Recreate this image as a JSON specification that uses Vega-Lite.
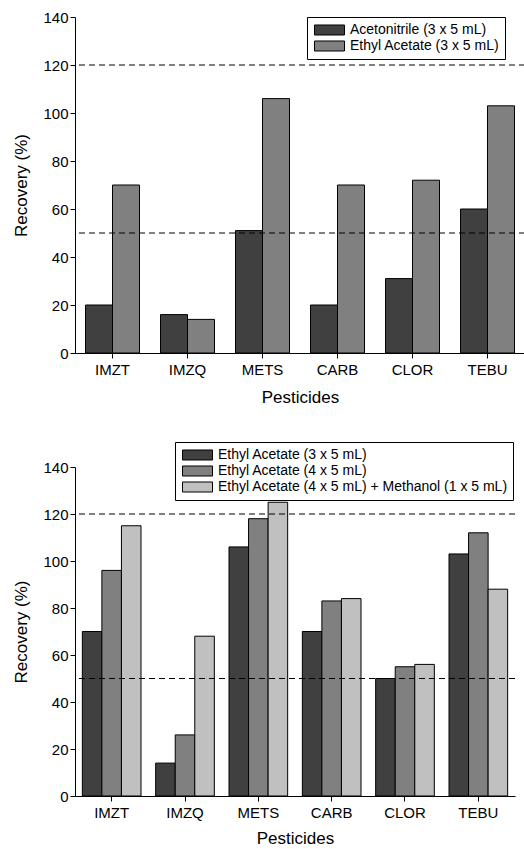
{
  "$schema": "https://vega.github.io/schema/vega-lite/v6.json",
  "background": "white",
  "padding": {"left": 12, "top": 10, "right": 0, "bottom": 0},
  "config": {
    "font": "Liberation Sans",
    "view": {"stroke": null},
    "axis": {
      "domainColor": "black",
      "tickColor": "black",
      "labelColor": "black",
      "titleColor": "black",
      "labelFontSize": 15,
      "titleFontSize": 17,
      "titleFontWeight": "normal",
      "grid": false
    },
    "legend": {
      "labelFontSize": 14,
      "labelColor": "black",
      "labelLimit": 0,
      "labelOffset": 12.5,
      "strokeColor": "black",
      "fillColor": "white",
      "padding": 5,
      "rowPadding": 0,
      "symbolOffset": 9.5,
      "symbolType": "M-2,-0.667H2V0.667H-2Z",
      "symbolSize": 225,
      "symbolStrokeColor": "black",
      "symbolStrokeWidth": 1,
      "symbolOpacity": 1
    }
  },
  "spacing": 36,
  "resolve": {"scale": {"color": "independent", "xOffset": "independent", "x": "independent"}, "legend": {"color": "independent"}},
  "vconcat": [
    {
      "width": 450,
      "height": 336,
      "layer": [
        {
          "data": {"values": [
            {"pesticide": "IMZT", "series": "Acetonitrile (3 x 5 mL)", "recovery": 20},
            {"pesticide": "IMZQ", "series": "Acetonitrile (3 x 5 mL)", "recovery": 16},
            {"pesticide": "METS", "series": "Acetonitrile (3 x 5 mL)", "recovery": 51},
            {"pesticide": "CARB", "series": "Acetonitrile (3 x 5 mL)", "recovery": 20},
            {"pesticide": "CLOR", "series": "Acetonitrile (3 x 5 mL)", "recovery": 31},
            {"pesticide": "TEBU", "series": "Acetonitrile (3 x 5 mL)", "recovery": 60},
            {"pesticide": "IMZT", "series": "Ethyl Acetate (3 x 5 mL)", "recovery": 70},
            {"pesticide": "IMZQ", "series": "Ethyl Acetate (3 x 5 mL)", "recovery": 14},
            {"pesticide": "METS", "series": "Ethyl Acetate (3 x 5 mL)", "recovery": 106},
            {"pesticide": "CARB", "series": "Ethyl Acetate (3 x 5 mL)", "recovery": 70},
            {"pesticide": "CLOR", "series": "Ethyl Acetate (3 x 5 mL)", "recovery": 72},
            {"pesticide": "TEBU", "series": "Ethyl Acetate (3 x 5 mL)", "recovery": 103}
          ]},
          "mark": {"type": "bar", "stroke": "black", "strokeWidth": 1},
          "encoding": {
            "x": {"field": "pesticide", "type": "nominal", "sort": null,
                  "scale": {"paddingInner": 0.28, "paddingOuter": 0.14},
                  "axis": {"title": "Pesticides", "labelAngle": 0, "tickSize": 5, "labelPadding": 4, "titlePadding": 12}},
            "xOffset": {"field": "series", "type": "nominal", "sort": null, "scale": {"paddingInner": 0, "paddingOuter": 0}},
            "y": {"field": "recovery", "type": "quantitative",
                  "scale": {"domain": [0, 140], "nice": false, "zero": true},
                  "axis": {"title": "Recovery (%)", "values": [0,10,20,30,40,50,60,70,80,90,100,110,120,130,140],
                           "labelExpr": "datum.value % 20 == 0 ? datum.label : ''",
                           "tickSize": {"condition": {"test": "datum.value % 20 == 0", "value": 5}, "value": 3},
                           "labelPadding": 2, "titlePadding": 12}},
            "color": {"field": "series", "type": "nominal", "sort": null,
                      "scale": {"range": ["#404040", "#808080"]},
                      "legend": {"title": null, "orient": "none", "legendX": 232, "legendY": 0}}
          }
        },
        {
          "data": {"values": [{"limit": 120}, {"limit": 50}]},
          "mark": {"type": "rule", "color": "black", "strokeWidth": 1, "strokeDash": [6, 4]},
          "encoding": {"y": {"field": "limit", "type": "quantitative"}}
        }
      ]
    },
    {
      "width": 440,
      "height": 329,
      "layer": [
        {
          "data": {"values": [
            {"pesticide": "IMZT", "series": "Ethyl Acetate (3 x 5 mL)", "recovery": 70},
            {"pesticide": "IMZQ", "series": "Ethyl Acetate (3 x 5 mL)", "recovery": 14},
            {"pesticide": "METS", "series": "Ethyl Acetate (3 x 5 mL)", "recovery": 106},
            {"pesticide": "CARB", "series": "Ethyl Acetate (3 x 5 mL)", "recovery": 70},
            {"pesticide": "CLOR", "series": "Ethyl Acetate (3 x 5 mL)", "recovery": 50},
            {"pesticide": "TEBU", "series": "Ethyl Acetate (3 x 5 mL)", "recovery": 103},
            {"pesticide": "IMZT", "series": "Ethyl Acetate (4 x 5 mL)", "recovery": 96},
            {"pesticide": "IMZQ", "series": "Ethyl Acetate (4 x 5 mL)", "recovery": 26},
            {"pesticide": "METS", "series": "Ethyl Acetate (4 x 5 mL)", "recovery": 118},
            {"pesticide": "CARB", "series": "Ethyl Acetate (4 x 5 mL)", "recovery": 83},
            {"pesticide": "CLOR", "series": "Ethyl Acetate (4 x 5 mL)", "recovery": 55},
            {"pesticide": "TEBU", "series": "Ethyl Acetate (4 x 5 mL)", "recovery": 112},
            {"pesticide": "IMZT", "series": "Ethyl Acetate (4 x 5 mL) + Methanol (1 x 5 mL)", "recovery": 115},
            {"pesticide": "IMZQ", "series": "Ethyl Acetate (4 x 5 mL) + Methanol (1 x 5 mL)", "recovery": 68},
            {"pesticide": "METS", "series": "Ethyl Acetate (4 x 5 mL) + Methanol (1 x 5 mL)", "recovery": 125},
            {"pesticide": "CARB", "series": "Ethyl Acetate (4 x 5 mL) + Methanol (1 x 5 mL)", "recovery": 84},
            {"pesticide": "CLOR", "series": "Ethyl Acetate (4 x 5 mL) + Methanol (1 x 5 mL)", "recovery": 56},
            {"pesticide": "TEBU", "series": "Ethyl Acetate (4 x 5 mL) + Methanol (1 x 5 mL)", "recovery": 88}
          ]},
          "mark": {"type": "bar", "stroke": "black", "strokeWidth": 1},
          "encoding": {
            "x": {"field": "pesticide", "type": "nominal", "sort": null,
                  "scale": {"paddingInner": 0.2, "paddingOuter": 0.1},
                  "axis": {"title": "Pesticides", "labelAngle": 0, "tickSize": 5, "labelPadding": 4, "titlePadding": 10}},
            "xOffset": {"field": "series", "type": "nominal", "sort": null, "scale": {"paddingInner": 0, "paddingOuter": 0}},
            "y": {"field": "recovery", "type": "quantitative",
                  "scale": {"domain": [0, 140], "nice": false, "zero": true},
                  "axis": {"title": "Recovery (%)", "values": [0,10,20,30,40,50,60,70,80,90,100,110,120,130,140],
                           "labelExpr": "datum.value % 20 == 0 ? datum.label : ''",
                           "tickSize": {"condition": {"test": "datum.value % 20 == 0", "value": 5}, "value": 3},
                           "labelPadding": 2, "titlePadding": 12}},
            "color": {"field": "series", "type": "nominal", "sort": null,
                      "scale": {"range": ["#404040", "#808080", "#c0c0c0"]},
                      "legend": {"title": null, "orient": "none", "legendX": 100, "legendY": -25}}
          }
        },
        {
          "data": {"values": [{"limit": 120}, {"limit": 50}]},
          "mark": {"type": "rule", "color": "black", "strokeWidth": 1, "strokeDash": [6, 4]},
          "encoding": {"y": {"field": "limit", "type": "quantitative"}}
        }
      ]
    }
  ]
}
